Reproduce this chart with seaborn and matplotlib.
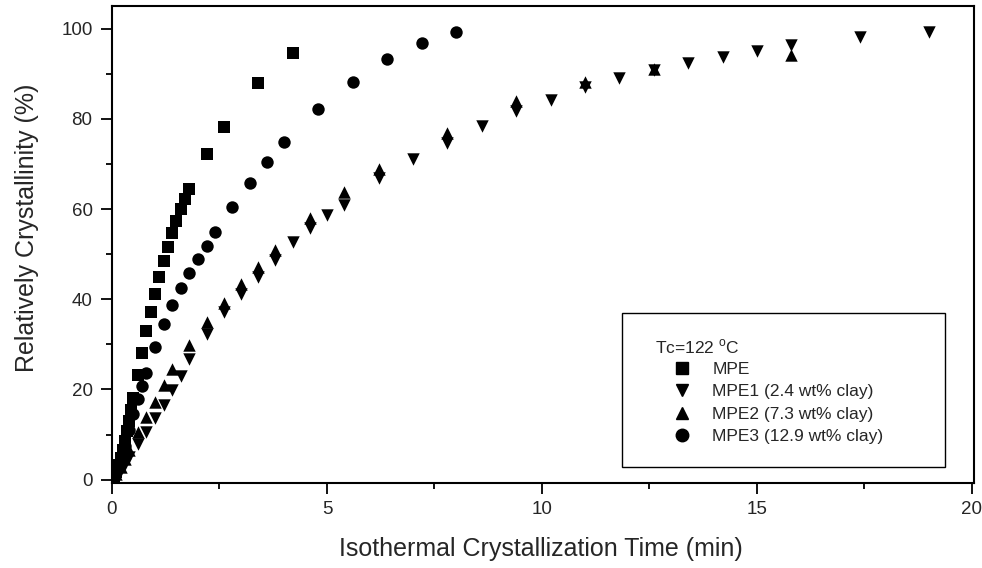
import matplotlib
matplotlib.use("Agg")
import matplotlib.pyplot as plt
import seaborn as sns
from matplotlib.lines import Line2D
from matplotlib.patches import Rectangle
from matplotlib.ticker import MultipleLocator

# ---- data ----
mpe_t = [0, 0.05, 0.1, 0.15, 0.2, 0.25, 0.3, 0.35, 0.4, 0.45, 0.5, 0.6, 0.7, 0.8, 0.9,
         1.0, 1.1, 1.2, 1.3, 1.4, 1.5, 1.6, 1.7, 1.8, 2.2, 2.6, 3.4, 4.2]
mpe_y = [0, 0.8, 1.8, 3.2, 4.8, 6.6, 8.6, 10.7, 13.0, 15.5, 18.1, 23.3, 28.2, 32.9, 37.2,
         41.2, 45.0, 48.4, 51.6, 54.6, 57.4, 60.0, 62.2, 64.4, 72.2, 78.3, 87.9, 94.7]

mpe1_t = [0, 0.1, 0.2, 0.3, 0.4, 0.6, 0.8, 1.0, 1.2, 1.4, 1.6, 1.8, 2.2, 2.6,
          3.0, 3.4, 3.8, 4.2, 4.6, 5.0, 5.4, 6.2, 7.0, 7.8, 8.6, 9.4, 10.2, 11.0,
          11.8, 12.6, 13.4, 14.2, 15.0, 15.8, 17.4, 19.0]
mpe1_y = [0, 1.0, 2.2, 3.5, 5.0, 7.8, 10.6, 13.7, 16.5, 19.8, 23.0, 26.8, 32.3, 37.2,
          41.1, 45.0, 48.7, 52.6, 55.8, 58.7, 60.9, 67.0, 71.2, 74.7, 78.4, 81.8, 84.3, 87.0,
          89.0, 90.8, 92.4, 93.8, 95.1, 96.3, 98.2, 99.3]

mpe2_t = [0, 0.1, 0.2, 0.3, 0.4, 0.6, 0.8, 1.0, 1.2, 1.4, 1.8, 2.2, 2.6, 3.0, 3.4, 3.8,
          4.6, 5.4, 6.2, 7.8, 9.4, 11.0, 12.6, 15.8]
mpe2_y = [0, 1.3, 2.8, 4.6, 6.6, 10.5, 14.0, 17.2, 21.0, 24.5, 29.8, 35.0, 39.2, 43.3, 47.2, 50.9,
          58.0, 63.8, 69.0, 76.8, 84.0, 88.2, 91.0, 94.1]

mpe3_t = [0, 0.1, 0.2, 0.3, 0.4, 0.5, 0.6, 0.7, 0.8, 1.0, 1.2, 1.4, 1.6, 1.8, 2.0, 2.2, 2.4,
          2.8, 3.2, 3.6, 4.0, 4.8, 5.6, 6.4, 7.2, 8.0]
mpe3_y = [0, 2.0, 4.5, 7.5, 11.0, 14.5, 17.9, 20.7, 23.7, 29.5, 34.5, 38.8, 42.6, 45.9, 48.9, 51.9, 54.9,
          60.4, 65.7, 70.4, 74.9, 82.3, 88.1, 93.3, 96.8, 99.3]

labels = ["MPE", "MPE1 (2.4 wt% clay)", "MPE2 (7.3 wt% clay)", "MPE3 (12.9 wt% clay)"]
markers = ["s", "v", "^", "o"]
legend_title = "Tc=122 $^{\\mathrm{o}}$C"
x_label = "Isothermal Crystallization Time (min)"
y_label = "Relatively Crystallinity (%)"

# ---- style ----
sns.set_style("ticks")
plt.rcParams["font.family"] = ["Liberation Sans", "DejaVu Sans"]
plt.rcParams["mathtext.fontset"] = "custom"
plt.rcParams["mathtext.rm"] = "Liberation Sans"

fig = plt.figure(figsize=(9.82, 5.68), dpi=100)
ax = fig.add_axes([0.114, 0.150, 0.878, 0.839])

series = [(mpe_t, mpe_y), (mpe1_t, mpe1_y), (mpe2_t, mpe2_y), (mpe3_t, mpe3_y)]
for (t, y), m in zip(series, markers):
    sns.scatterplot(x=t, y=y, marker=m, color="black", s=80, linewidth=0, ax=ax)

ax.set_xlim(0, 20.05)
ax.set_ylim(-0.7, 105)
ax.xaxis.set_major_locator(MultipleLocator(5))
ax.xaxis.set_minor_locator(MultipleLocator(2.5))
ax.yaxis.set_major_locator(MultipleLocator(20))
ax.yaxis.set_minor_locator(MultipleLocator(10))
ax.tick_params(which="major", direction="out", length=8, width=1.3, labelsize=13.5, color="black")
ax.tick_params(which="minor", direction="out", length=4, width=1.3, color="black")
ax.tick_params(axis="y", which="major", pad=6)
ax.tick_params(axis="x", which="major", pad=5)
ax.tick_params(top=False, right=False)
for sp in ax.spines.values():
    sp.set_linewidth(1.5)
    sp.set_color("black")

ax.set_xlabel(x_label, fontsize=18)
ax.set_ylabel(y_label, fontsize=18)
ax.xaxis.set_label_coords(0.498, -0.114)
ax.yaxis.set_label_coords(-0.085, 0.535)

# legend: frame, title and entries
ax.add_patch(Rectangle((0.592, 0.034), 0.374, 0.322, transform=ax.transAxes,
                       fill=True, facecolor="white", edgecolor="black", linewidth=1.0, zorder=5))
ax.text(0.630, 0.285, legend_title, transform=ax.transAxes, fontsize=12.5,
        ha="left", va="center", zorder=6)
handles = [Line2D([], [], linestyle="none", marker=m, color="black", markersize=9) for m in markers]
leg = ax.legend(handles, labels, loc="upper left", bbox_to_anchor=(0.651, 0.254),
                frameon=False, fontsize=12.5, borderpad=0, labelspacing=0.42,
                handletextpad=1.25, handlelength=1.0, borderaxespad=0)
leg.set_zorder(7)

fig.savefig("out.png", dpi=100)
